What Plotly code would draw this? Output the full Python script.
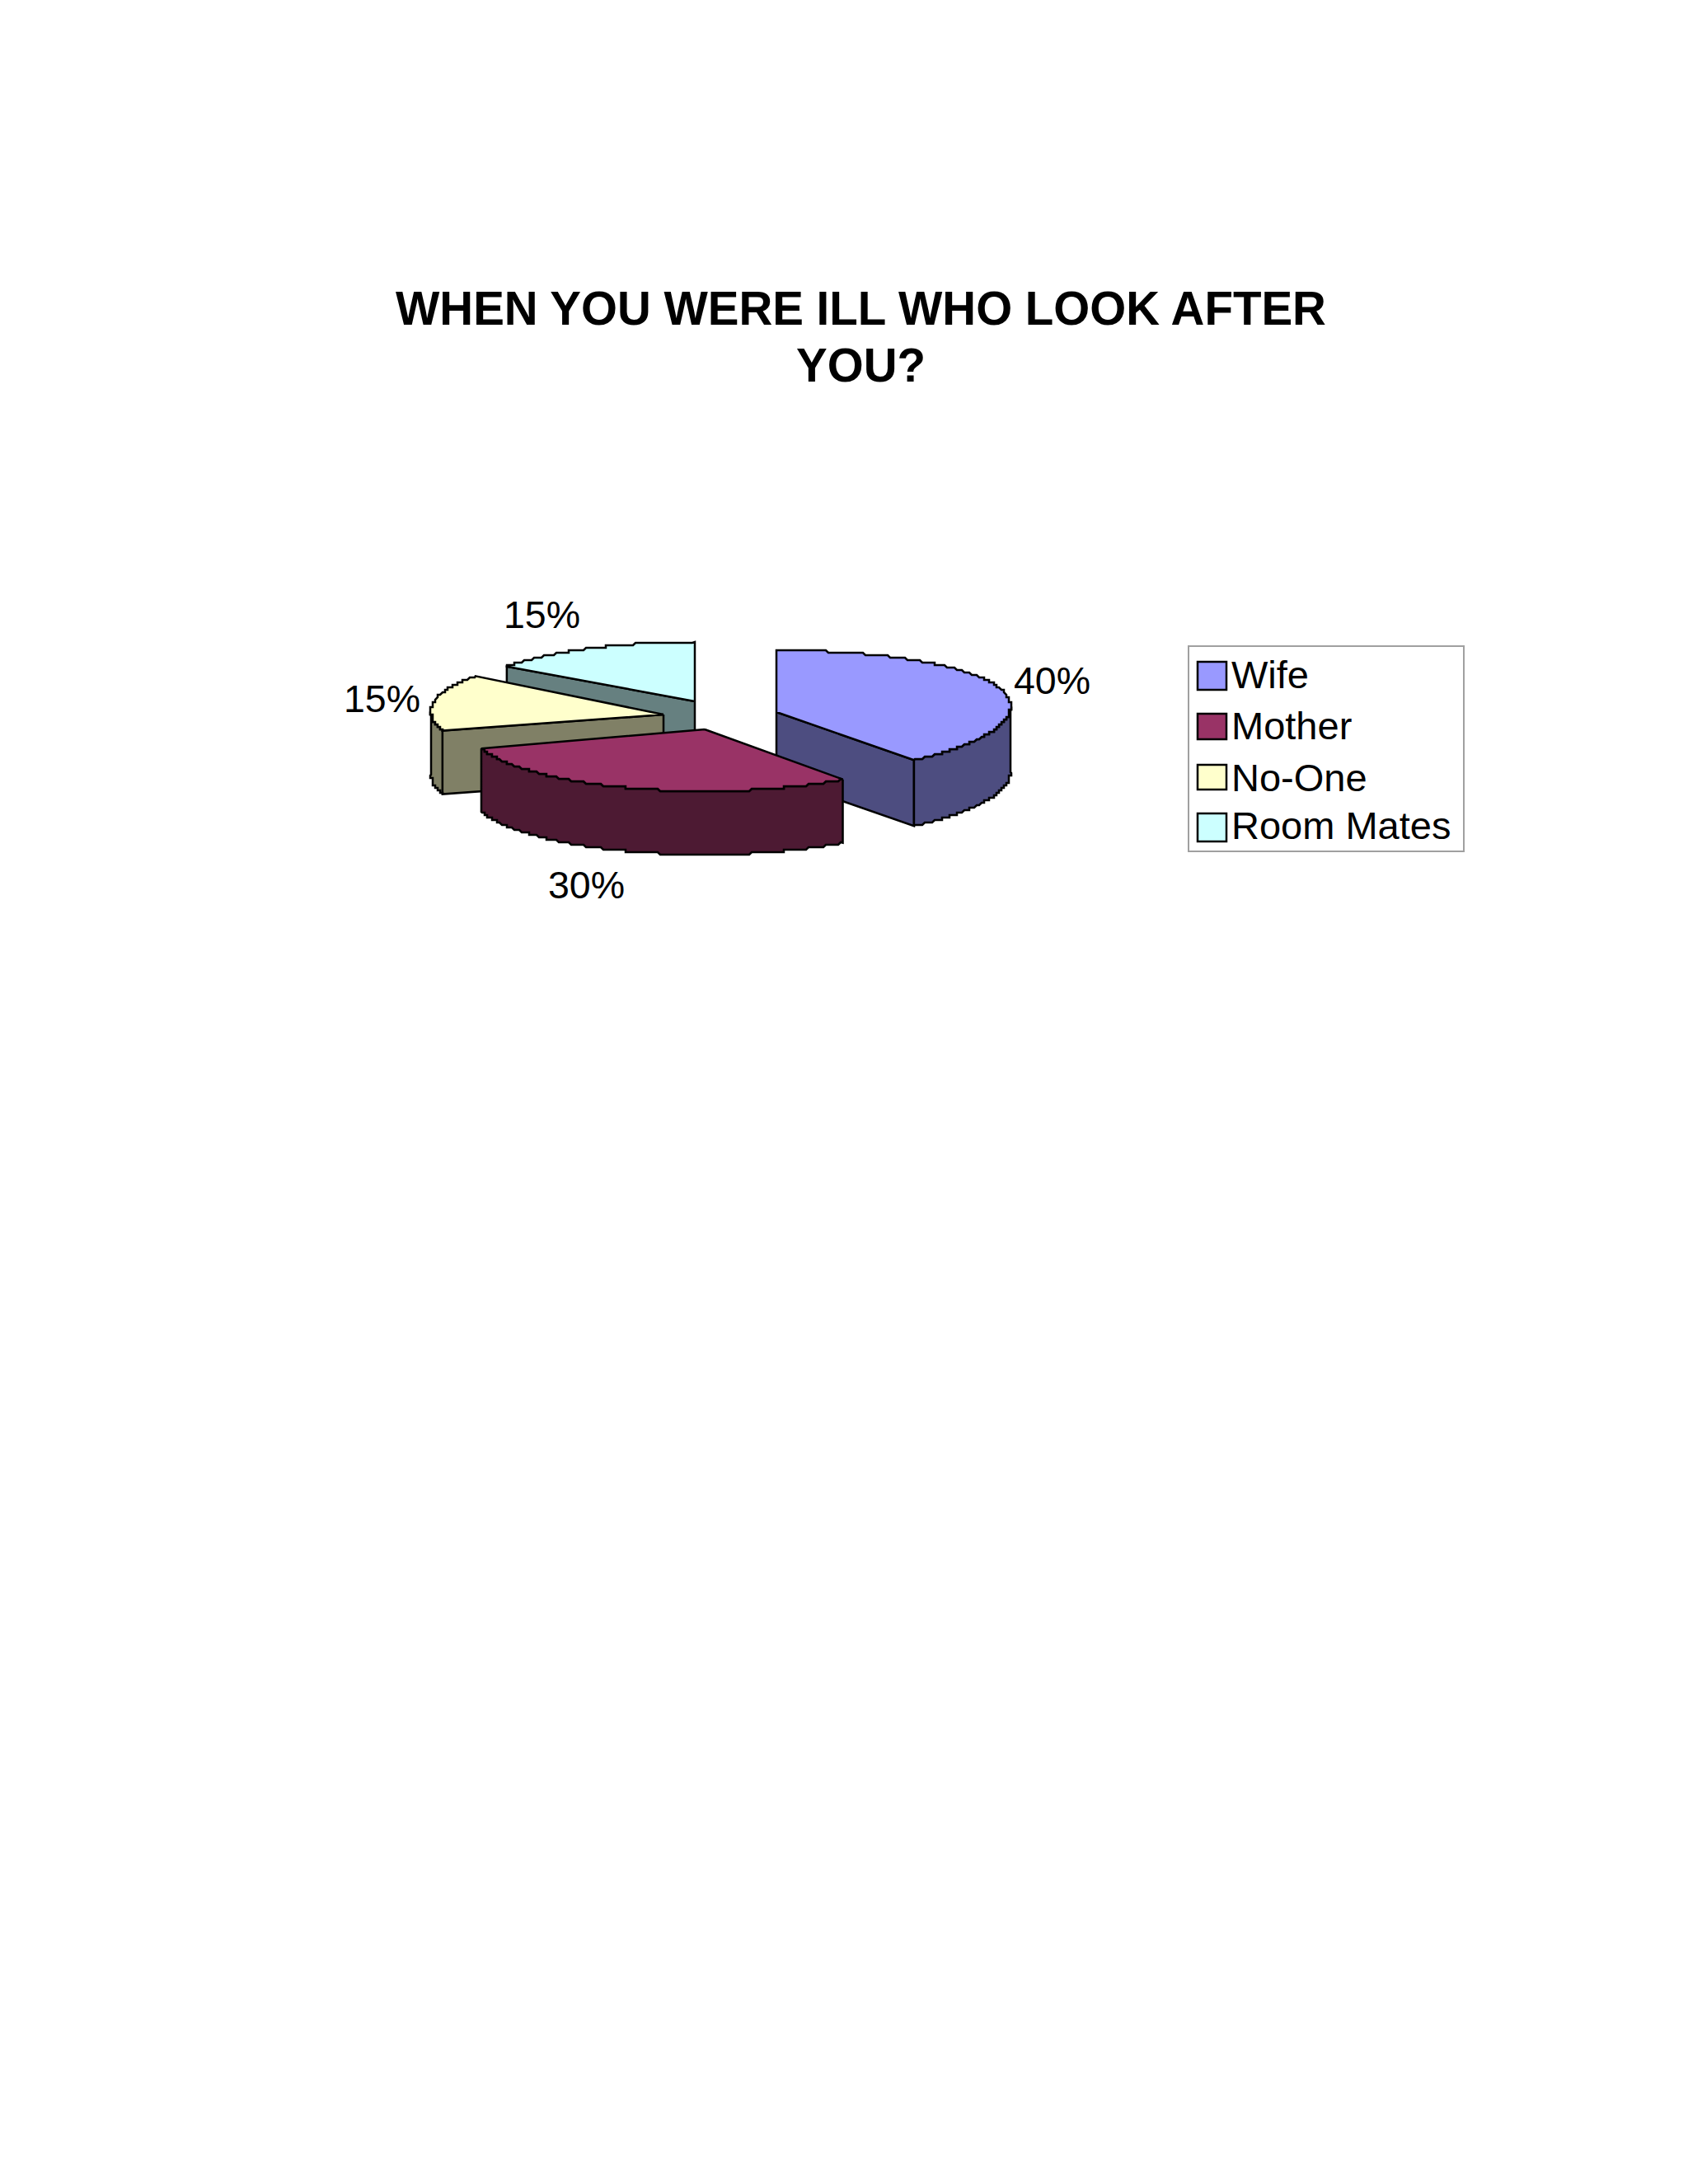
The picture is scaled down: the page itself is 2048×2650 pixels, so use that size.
import math
import plotly.graph_objects as go

title_lines = ["WHEN YOU WERE ILL WHO LOOK AFTER", "YOU?"]
labels = ["Wife", "Mother", "No-One", "Room Mates"]
values = [40, 30, 15, 15]
top_colors = ["#9999FF", "#993366", "#FFFFCC", "#CCFFFF"]
side_colors = ["#4D4D80", "#4D1A33", "#808066", "#668080"]

# 3d look of each exploded slice, in page pixels
apex_x = [942, 855, 805, 843]
apex_y = [864, 885, 867, 851]
radius_x = [284, 285, 282, 282]
radius_y = [75, 75, 75, 72]
bulge = [7, 0, 4, 0]
depth = [80, 77, 77, 75]

label_pos = [(1276, 826), (711, 1074), (463, 848), (657, 746)]
title_y = [374, 443]
legend_text_y = [818, 880, 943, 1001]
legend_swatch = [(803, 837), (866, 897), (928, 958), (987, 1021)]

FONT = "Liberation Sans"


def rim(i, deg):
    t = math.radians(deg)
    x = apex_x[i] + radius_x[i] * math.sin(t)
    y = apex_y[i] - radius_y[i] * math.cos(t) - bulge[i] * math.sin(t) ** 2
    return x, y


def arc(i, a, b):
    # the original is a low-res metafile, its curves come out in small steps
    n = max(int(abs(b - a) / 0.4), 2)
    pts = [rim(i, a)]
    for k in range(1, n):
        x, y = rim(i, a + (b - a) * k / n)
        pts.append((round(x / 3) * 3, round(y / 3) * 3))
    pts.append(rim(i, b))
    return pts


def poly(fig, pts, color):
    xs = [p[0] for p in pts] + [pts[0][0]]
    ys = [p[1] for p in pts] + [pts[0][1]]
    fig.add_trace(go.Scatter(x=xs, y=ys, mode="lines", fill="toself", fillcolor=color,
                             line=dict(color="black", width=2.5), hoverinfo="skip", showlegend=False))


def radial_face(fig, i, deg):
    ex, ey = rim(i, deg)
    ax, ay = apex_x[i], apex_y[i]
    d = depth[i]
    poly(fig, [(ax, ay), (ex, ey), (ex, ey + d), (ax, ay + d)], side_colors[i])


def draw_slice(fig, i, start, end):
    if math.sin(math.radians(start)) < 0:
        radial_face(fig, i, start)
    if math.sin(math.radians(end)) > 0:
        radial_face(fig, i, end)
    lo, hi = max(start, 90), min(end, 270)
    if lo < hi:
        front = arc(i, lo, hi)
        back = [(x, y + depth[i]) for x, y in reversed(front)]
        poly(fig, front + back, side_colors[i])
    poly(fig, [(apex_x[i], apex_y[i])] + arc(i, start, end), top_colors[i])


fig = go.Figure()

angles = []
total = sum(values)
run = 0
for v in values:
    angles.append((run * 360 / total, (run + v) * 360 / total))
    run += v

# back slices first so the front ones cover them
for i in [3, 2, 0, 1]:
    draw_slice(fig, i, angles[i][0], angles[i][1])

for i, v in enumerate(values):
    fig.add_annotation(x=label_pos[i][0], y=label_pos[i][1], text=f"{v}%", showarrow=False,
                       font=dict(family=FONT, size=46.5, color="black"))

for line, y in zip(title_lines, title_y):
    fig.add_annotation(x=1044, y=y, text="<b>" + line + "</b>", showarrow=False,
                       font=dict(family=FONT, size=56.5, color="black"))

# legend box
fig.add_shape(type="rect", x0=1442, x1=1776, y0=784, y1=1033, fillcolor="white",
              line=dict(color="#A0A0A0", width=2))
for i, name in enumerate(labels):
    fig.add_shape(type="rect", x0=1453, x1=1488, y0=legend_swatch[i][0], y1=legend_swatch[i][1],
                  fillcolor=top_colors[i], line=dict(color="black", width=2.5))
    fig.add_annotation(x=1492, y=legend_text_y[i], text=name, showarrow=False, xanchor="left",
                       font=dict(family=FONT, size=47, color="black"))

fig.update_layout(
    width=2048, height=2650,
    margin=dict(l=0, r=0, t=0, b=0),
    paper_bgcolor="white", plot_bgcolor="white",
    showlegend=False,
    xaxis=dict(range=[0, 2048], visible=False),
    yaxis=dict(range=[2650, 0], visible=False),
)

fig.write_html("out.html", post_script="document.body.style.margin='0';", config=dict(displayModeBar=False))
